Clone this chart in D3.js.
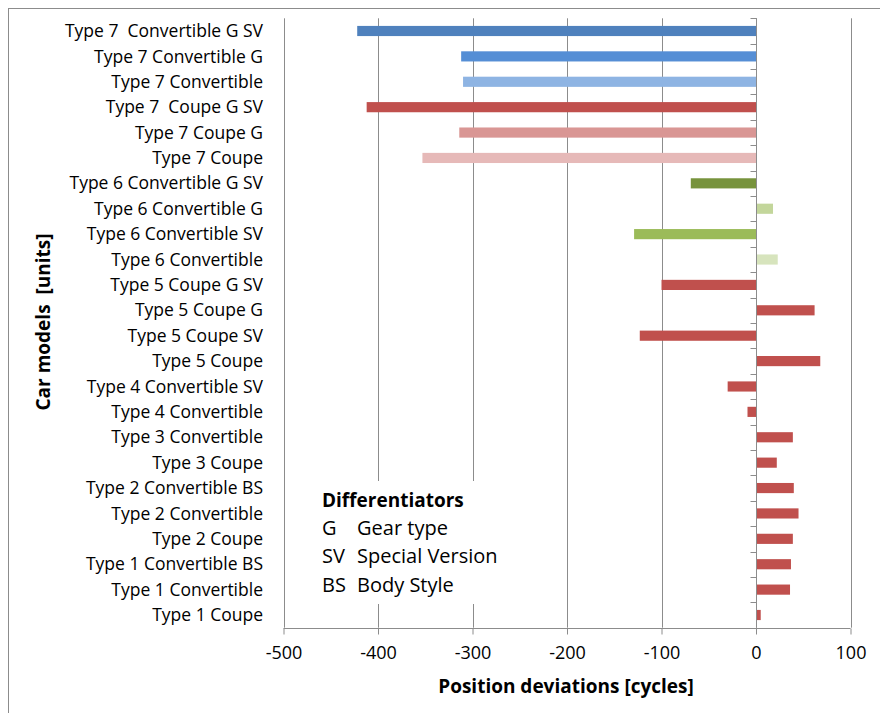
<!DOCTYPE html>
<html><head><meta charset="utf-8">
<script src="https://cdn.jsdelivr.net/npm/d3@7"></script>
<style>
body{margin:0;background:#fff;}
text{font-family:"Open Sans",sans-serif;fill:#000;}
</style></head>
<body><svg id="c" width="880" height="713"></svg>
<script>
const categories = [
 "Type 7  Convertible G SV","Type 7 Convertible G","Type 7 Convertible","Type 7  Coupe G SV",
 "Type 7 Coupe G","Type 7 Coupe","Type 6 Convertible G SV","Type 6 Convertible G",
 "Type 6 Convertible SV","Type 6 Convertible","Type 5 Coupe G SV","Type 5 Coupe G",
 "Type 5 Coupe SV","Type 5 Coupe","Type 4 Convertible SV","Type 4 Convertible",
 "Type 3 Convertible","Type 3 Coupe","Type 2 Convertible BS","Type 2 Convertible",
 "Type 2 Coupe","Type 1 Convertible BS","Type 1 Convertible","Type 1 Coupe"];
const values = [-422,-312,-310,-412,-314,-353,-69,18,-129,23,-100,62,-123,68,-30,-9,39,22,40,45,39,37,36,5];
const colors = ["#4F81BD","#558ED5","#8EB4E3","#C0504D","#D99694","#E6B9B8","#77933C","#C3D69B",
 "#9BBB59","#D7E4BD","#C0504D","#C0504D","#C0504D","#C0504D","#C0504D","#C0504D",
 "#C0504D","#C0504D","#C0504D","#C0504D","#C0504D","#C0504D","#C0504D","#C0504D"];
const xTicks = [-500,-400,-300,-200,-100,0,100];
const legendTitle = "Differentiators";
const legendCodes = ["G","SV","BS"];
const legendNames = ["Gear type","Special Version","Body Style"];

const svg = d3.select("#c");
const grid = "#8c8c8c";
svg.append("rect").attr("x",8.5).attr("y",8.5).attr("width",1000).attr("height",1000)
  .attr("fill","none").attr("stroke",grid).attr("stroke-width",1);

const L=283.5, R=850.5, T=18.3, B=627.7;
const x = d3.scaleLinear().domain([-500,100]).range([L,R]);
const y = d3.scaleBand().domain(categories).range([T,B]).paddingInner(0.6).paddingOuter(0.3);
const yb = d3.scaleBand().domain(categories).range([T,B]);

// gridlines
svg.append("g").selectAll("line").data(xTicks).join("line")
  .attr("x1",d=>Math.round(x(d))+0.5).attr("x2",d=>Math.round(x(d))+0.5)
  .attr("y1",T).attr("y2",B).attr("stroke",grid).attr("stroke-width",1);

// bars
svg.append("g").selectAll("rect").data(values).join("rect")
  .attr("x",(d)=>x(Math.min(0,d)))
  .attr("width",d=>Math.abs(x(d)-x(0)))
  .attr("y",(d,i)=>y(categories[i]))
  .attr("height",y.bandwidth())
  .attr("fill",(d,i)=>colors[i]);

// category axis at zero with left ticks
const zx = Math.round(x(0))+0.5;
svg.append("line").attr("x1",zx).attr("x2",zx).attr("y1",T).attr("y2",B).attr("stroke",grid);
svg.append("g").selectAll("line").data(d3.range(categories.length+1)).join("line")
  .attr("x1",zx-6).attr("x2",zx).attr("y1",i=>Math.round(T+i*yb.step())+0.5).attr("y2",i=>Math.round(T+i*yb.step())+0.5)
  .attr("stroke",grid);

// category labels
svg.append("g").selectAll("text").data(categories).join("text")
  .attr("x",263).attr("y",d=>yb(d)+yb.bandwidth()/2).attr("dy","0.35em")
  .attr("text-anchor","end").attr("font-size",17.5).style("white-space","pre").text(d=>d);

// x axis
const xa = svg.append("g").attr("transform",`translate(0,${Math.round(B)+0.5})`)
  .call(d3.axisBottom(x).tickValues(xTicks).tickSize(6).tickPadding(12).tickFormat(d=>String(d)));
xa.select(".domain").attr("stroke",grid).attr("d",`M${L},0H${R}`);
xa.selectAll(".tick line").attr("stroke",grid);
xa.selectAll(".tick text").attr("font-size",18).attr("font-family","'Open Sans',sans-serif");

// axis titles
svg.append("text").attr("x",566).attr("y",693).attr("text-anchor","middle")
  .attr("font-size",19).attr("font-weight","bold").text("Position deviations [cycles]");
svg.append("text").attr("transform","translate(50,322) rotate(-90)").attr("text-anchor","middle")
  .attr("font-size",19).attr("font-weight","bold").style("white-space","pre").text("Car models  [units]");

// legend box
svg.append("rect").attr("x",296).attr("y",481).attr("width",240).attr("height",123).attr("fill","#fff");
svg.append("text").attr("x",322).attr("y",507).attr("font-size",19).attr("font-weight","bold").text(legendTitle);
legendCodes.forEach((c,i)=>{
  svg.append("text").attr("x",322).attr("y",535+i*28.3).attr("font-size",20).text(c);
  svg.append("text").attr("x",357).attr("y",535+i*28.3).attr("font-size",20).text(legendNames[i]);
});
</script></body></html>
